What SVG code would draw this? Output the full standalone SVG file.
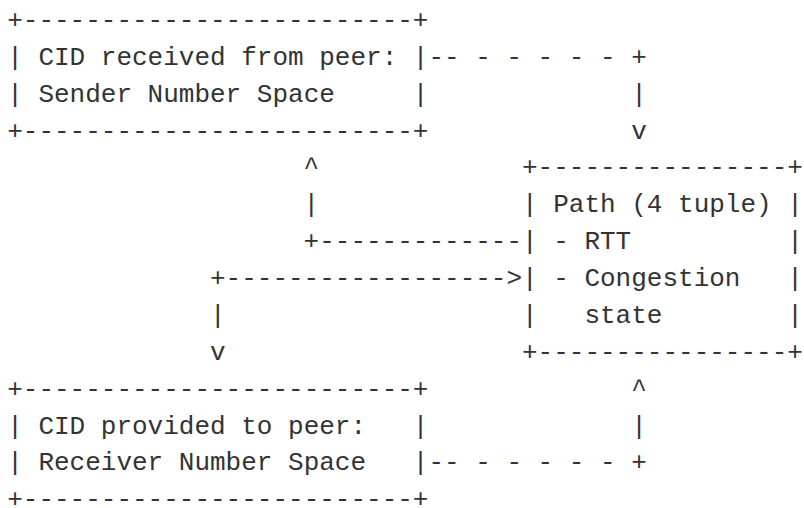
<svg xmlns="http://www.w3.org/2000/svg" width="804" height="508" viewBox="0 0 804 508">
  <style>
    text { font-family: "Liberation Mono", "DejaVu Sans Mono", monospace; font-size: 26px; fill: #333333; white-space: pre; }
  </style>
  <rect width="804" height="508" fill="#ffffff"/>

  <!-- character grid: column c starts at x = 7.2 + 15.6*c, row r baseline at 28 + 36.87*(r-1) -->

  <g id="sender-space" xml:space="preserve">
    <text x="7.2" y="28">+-------------------------+</text>
    <text x="7.2" y="64.87">| CID received from peer: |</text>
    <text x="7.2" y="101.74">| Sender Number Space     |</text>
    <text x="7.2" y="138.61">+-------------------------+</text>
  </g>

  <g id="path-state" xml:space="preserve">
    <text x="522" y="175.48">+----------------+</text>
    <text x="522" y="212.35">| Path (4 tuple) |</text>
    <text x="522" y="249.22">| - RTT          |</text>
    <text x="522" y="286.09">| - Congestion   |</text>
    <text x="522" y="322.96">|   state        |</text>
    <text x="522" y="359.83">+----------------+</text>
  </g>

  <g id="receiver-space" xml:space="preserve">
    <text x="7.2" y="396.7">+-------------------------+</text>
    <text x="7.2" y="433.57">| CID provided to peer:   |</text>
    <text x="7.2" y="470.44">| Receiver Number Space   |</text>
    <text x="7.2" y="507.31">+-------------------------+</text>
  </g>

  <g id="connectors" xml:space="preserve">
    <!-- sender space down to path -->
    <text x="428.4" y="64.87">-- - - - - - +</text>
    <text x="631.2" y="101.74">|</text>
    <text x="631.2" y="138.61">v</text>
    <!-- path up to sender space -->
    <text x="303.6" y="175.48">^</text>
    <text x="303.6" y="212.35">|</text>
    <text x="303.6" y="249.22">+-------------</text>
    <!-- receiver space into path -->
    <text x="210" y="286.09">+------------------&gt;</text>
    <text x="210" y="322.96">|</text>
    <text x="210" y="359.83">v</text>
    <!-- receiver space up to path -->
    <text x="631.2" y="396.7">^</text>
    <text x="631.2" y="433.57">|</text>
    <text x="428.4" y="470.44">-- - - - - - +</text>
  </g>
</svg>
